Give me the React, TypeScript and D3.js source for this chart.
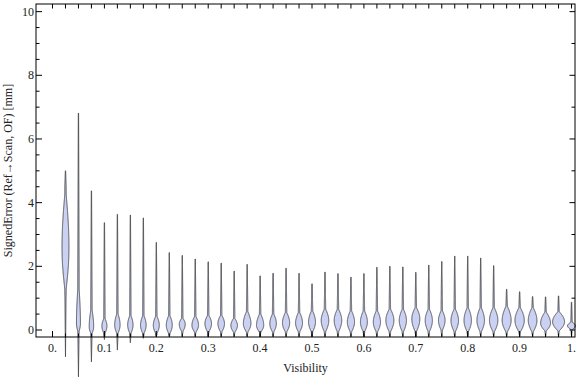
import React from "react";
import * as d3 from "d3";

const visibility = [0.025, 0.05, 0.075, 0.1, 0.125, 0.15, 0.175, 0.2, 0.225, 0.25,
  0.275, 0.3, 0.325, 0.35, 0.375, 0.4, 0.425, 0.45, 0.475, 0.5,
  0.525, 0.55, 0.575, 0.6, 0.625, 0.65, 0.675, 0.7, 0.725, 0.75,
  0.775, 0.8, 0.825, 0.85, 0.875, 0.9, 0.925, 0.95, 0.975, 1.0];
const maxErr = [5.0, 6.81, 4.37, 3.37, 3.63, 3.61, 3.52, 2.75, 2.43, 2.34,
  2.23, 2.14, 2.1, 1.85, 2.06, 1.7, 1.78, 1.94, 1.78, 1.45,
  1.82, 1.77, 1.66, 1.77, 1.97, 2.0, 1.98, 1.81, 2.04, 2.15,
  2.32, 2.32, 2.26, 2.02, 1.28, 1.2, 1.05, 1.04, 1.07, 0.87];
const minErr = [-0.84, -1.47, -1.0, -0.3, -0.63, -0.4, -0.26, -0.2, -0.2, -0.2,
  -0.2, -0.2, -0.2, -0.2, -0.2, -0.2, -0.2, -0.2, -0.2, -0.2,
  -0.2, -0.2, -0.2, -0.2, -0.2, -0.2, -0.2, -0.2, -0.2, -0.2,
  -0.2, -0.2, -0.2, -0.2, -0.2, -0.2, -0.2, -0.2, -0.2, -0.2];
const bulgeLow = [1.1, -0.1, -0.15, -0.15, -0.15, -0.15, -0.15, -0.15, -0.15, -0.08,
  -0.1, -0.1, -0.1, -0.1, -0.1, -0.1, -0.1, -0.1, -0.1, -0.1,
  -0.1, -0.1, -0.1, -0.1, -0.1, -0.1, -0.1, -0.1, -0.1, -0.05,
  -0.1, -0.1, -0.1, -0.1, -0.1, -0.1, -0.1, -0.05, -0.05, 0.0];
const modeErr = [2.58, 0.2, 0.1, 0.13, 0.16, 0.16, 0.15, 0.15, 0.15, 0.18,
  0.15, 0.2, 0.2, 0.14, 0.2, 0.15, 0.2, 0.22, 0.22, 0.25,
  0.3, 0.3, 0.25, 0.25, 0.25, 0.3, 0.3, 0.35, 0.3, 0.3,
  0.3, 0.3, 0.3, 0.3, 0.3, 0.3, 0.3, 0.21, 0.26, 0.13];
const bulgeHigh = [4.5, 1.6, 0.75, 0.4, 0.57, 0.5, 0.5, 0.48, 0.5, 0.4,
  0.47, 0.5, 0.5, 0.4, 0.63, 0.55, 0.55, 0.6, 0.6, 0.65,
  0.7, 0.7, 0.65, 0.65, 0.65, 0.7, 0.7, 0.75, 0.7, 0.65,
  0.7, 0.75, 0.75, 0.75, 0.8, 0.75, 0.75, 0.6, 0.6, 0.26];
const density = [0.58, 0.33, 0.37, 0.42, 0.45, 0.45, 0.47, 0.5, 0.5, 0.5,
  0.55, 0.55, 0.55, 0.55, 0.63, 0.6, 0.55, 0.6, 0.58, 0.58,
  0.63, 0.63, 0.6, 0.58, 0.6, 0.67, 0.6, 0.67, 0.6, 0.55,
  0.63, 0.62, 0.63, 0.7, 0.75, 0.78, 0.72, 0.83, 1.0, 0.67];

const xTicksMajor = [0, 0.1, 0.2, 0.3, 0.4, 0.5, 0.6, 0.7, 0.8, 0.9, 1.0];
const xTickLabels = ["0.", "0.1", "0.2", "0.3", "0.4", "0.5", "0.6", "0.7", "0.8", "0.9", "1."];
const yTicksMajor = [0, 2, 4, 6, 8, 10];
const yTickLabels = ["0", "2", "4", "6", "8", "10"];

const W = 576, H = 377;
const L = 36, R = 575, T = 4, B = 337;

export default function App() {
  const x = d3.scaleLinear().domain([-0.0318, 1.0067]).range([L, R]);
  const y = d3.scaleLinear().domain([-0.22, 10.24]).range([B, T]);
  const wScale = d3.scaleLinear().domain([0, 1]).range([0, 6]);

  const violins = visibility.map((v, i) => {
    const mx = maxErr[i], mn = minErr[i], lo = bulgeLow[i], md = modeErr[i], hi = bulgeHigh[i];
    const hw = wScale(density[i]);
    const n = 400;
    const ys = d3.range(n + 1).map(j => mn + (mx - mn) * j / n);
    const pts = ys.map(yy => {
      let tail: number;
      if (yy > hi) tail = 0.15 + 0.55 * (1 - (yy - hi) / (mx - hi));
      else if (yy < lo) tail = 0.6 * (yy - mn) / (lo - mn);
      else tail = 0.7;
      let wb = 0;
      if (yy >= lo && yy <= hi) {
        const t = yy < md ? (yy - lo) / (md - lo) : (hi - yy) / (hi - md);
        wb = hw * Math.sin(Math.PI / 2 * Math.max(0, Math.min(1, t)));
      }
      return { y: yy, w: Math.max(tail, wb) };
    });
    const cx = x(v);
    const area = d3.area<{ y: number; w: number }>()
      .x0(d => cx - d.w).x1(d => cx + d.w).y(d => y(d.y)).curve(d3.curveLinear);
    return <path key={i} d={area(pts) || ""} fill="#cbd1f2" stroke="#333" strokeWidth={0.8} />;
  });

  const xMinor = visibility.concat([0]);
  const yMinor = d3.range(0, 10.01, 0.5).filter(v => !yTicksMajor.includes(v));
  const yRight = d3.range(0, 10.01, 1);

  return (
    <svg width={W} height={H} style={{ position: "absolute", left: 0, top: 0 }}
      fontFamily="'Liberation Serif', 'Times New Roman', serif" fontSize={12}>
      <rect width={W} height={H} fill="#fff" />
      {violins}
      <g stroke="#000" strokeWidth={1}>
        {xTicksMajor.map((t, i) => (
          <line key={"xb" + i} x1={x(t)} x2={x(t)} y1={B} y2={B - 6} />
        ))}
        {xMinor.map((t, i) => (
          <line key={"xbm" + i} x1={x(t)} x2={x(t)} y1={B} y2={B - 3.5} />
        ))}
        {xMinor.map((t, i) => (
          <line key={"xt" + i} x1={x(t)} x2={x(t)} y1={T} y2={T + 4.5} />
        ))}
        {yTicksMajor.map((t, i) => (
          <line key={"yl" + i} x1={L} x2={L + 6} y1={y(t)} y2={y(t)} />
        ))}
        {yMinor.map((t, i) => (
          <line key={"ylm" + i} x1={L} x2={L + 3.5} y1={y(t)} y2={y(t)} />
        ))}
        {yRight.map((t, i) => (
          <line key={"yr" + i} x1={R} x2={R - (t % 2 === 0 ? 5.5 : 3.5)} y1={y(t)} y2={y(t)} />
        ))}
        <rect x={L} y={T} width={R - L} height={B - T} fill="none" />
      </g>
      <g fill="#222">
        {xTicksMajor.map((t, i) => (
          <text key={"xl" + i} x={x(t)} y={352} textAnchor="middle">{xTickLabels[i]}</text>
        ))}
        {yTicksMajor.map((t, i) => (
          <text key={"yl" + i} x={34} y={y(t)} textAnchor="end" dominantBaseline="central">{yTickLabels[i]}</text>
        ))}
        <text x={(L + R) / 2} y={372} textAnchor="middle">Visibility</text>
        <text transform={`translate(12, ${(T + B) / 2}) rotate(-90)`} textAnchor="middle">SignedError (Ref→Scan, OF) [mm]</text>
      </g>
    </svg>
  );
}
